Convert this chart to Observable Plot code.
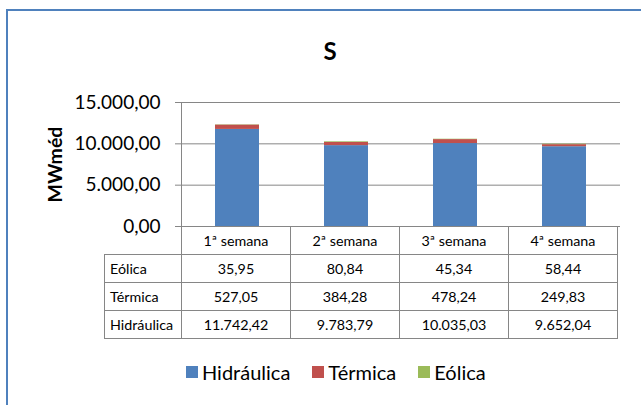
<!DOCTYPE html>
<html>
<head>
<meta charset="utf-8">
<script src="https://cdn.jsdelivr.net/npm/d3@7"></script>
<script src="https://cdn.jsdelivr.net/npm/@observablehq/plot@0.6"></script>
<style>
  html, body { margin: 0; padding: 0; background: #fff; overflow: hidden; }
  #chart { position: relative; width: 641px; height: 405px; overflow: hidden; font-family: Lato, "Open Sans", sans-serif; color: #000; }
  #border { position: absolute; left: 6px; top: 9px; width: 700px; height: 500px; border: 2px solid #4F81BD; box-sizing: border-box; }
  #title { position: absolute; left: 0; top: 36px; width: 660px; text-align: center; font-weight: bold; font-size: 24px; line-height: 30px; }
  #chart svg g[aria-label="y-axis label"] text { font-weight: bold; font-size: 19.5px; }
  #tbl { position: absolute; border-collapse: collapse; table-layout: fixed; font-size: 14.3px; }
  #tbl td { border: 1px solid #868686; padding: 0; text-align: center; box-sizing: border-box; white-space: nowrap; }
  #tbl td.lab { text-align: left; padding-left: 5px; }
  #tbl td.empty { border: none; }
  #legend { position: absolute; top: 360px; left: 186px; display: flex; align-items: center; font-size: 20px; }
  .item { display: flex; align-items: center; margin-right: 22px; }
  .sw { width: 12px; height: 12px; margin-right: 4px; }
</style>
</head>
<body>
<div id="chart">
  <div id="border"></div>
  <div id="title">S</div>
</div>
<script>
const weeks = ["1ª semana", "2ª semana", "3ª semana", "4ª semana"];
const series = ["Hidráulica", "Térmica", "Eólica"];
const colors = ["#4F81BD", "#C0504D", "#9BBB59"];
const hidraulica = [11742.42, 9783.79, 10035.03, 9652.04];
const termica = [527.05, 384.28, 478.24, 249.83];
const eolica = [35.95, 80.84, 45.34, 58.44];
const yTicks = [0, 5000, 10000, 15000];
const yLabel = "MWméd";
const tableRows = ["Eólica", "Térmica", "Hidráulica"];

const valuesBySeries = {"Hidráulica": hidraulica, "Térmica": termica, "Eólica": eolica};
const data = weeks.flatMap((w, i) => series.map(s => ({week: w, serie: s, value: valuesBySeries[s][i]})));

const locale = d3.formatLocale({decimal: ",", thousands: ".", grouping: [3], currency: ["", ""]});
const fmt = locale.format(",.2f");

const W = 641, H = 405;
const plot = Plot.plot({
  width: W, height: H,
  marginLeft: 181, marginRight: 21, marginTop: 102, marginBottom: H - 226,
  style: {position: "absolute", left: "0px", top: "0px", background: "transparent", fontFamily: "Lato, 'Open Sans', sans-serif", color: "#000", overflow: "visible"},
  x: {domain: weeks, paddingInner: 0.6, paddingOuter: 0.3, axis: null},
  y: {domain: [0, 15000]},
  color: {domain: series, range: colors},
  marks: [
    Plot.gridY(yTicks, {stroke: "#868686", strokeOpacity: 1}),
    Plot.barY(data, {x: "week", y: "value", fill: "serie", order: series}),
    Plot.frame({anchor: "left", stroke: "#868686"}),
    Plot.axisY(yTicks, {tickFormat: fmt, tickSize: 6, tickPadding: 15, fontSize: 19, stroke: "#868686",
      label: yLabel, labelAnchor: "center", labelArrow: "none", labelOffset: 133, fill: "#000"})
  ]
});
document.getElementById("chart").appendChild(plot);

// data table aligned to the x band scale
const xs = plot.scale("x");
const step = xs.step;
const left0 = xs.range[0];
const tbl = document.createElement("table");
tbl.id = "tbl";
const labW = left0 - 104;
tbl.style.left = "104px";
tbl.style.top = "226px";
tbl.style.width = (labW + step * weeks.length) + "px";
const cg = document.createElement("colgroup");
[labW, ...weeks.map(() => step)].forEach(w => { const c = document.createElement("col"); c.style.width = w + "px"; cg.appendChild(c); });
tbl.appendChild(cg);
const hr = tbl.insertRow();
hr.style.height = "28px";
const e = hr.insertCell(); e.className = "empty";
weeks.forEach(w => { const c = hr.insertCell(); c.textContent = w; });
tableRows.forEach(s => {
  const r = tbl.insertRow();
  r.style.height = "28px";
  const l = r.insertCell(); l.className = "lab"; l.textContent = s;
  valuesBySeries[s].forEach(v => { const c = r.insertCell(); c.textContent = fmt(v); });
});
document.getElementById("chart").appendChild(tbl);

// legend
const lg = document.createElement("div");
lg.id = "legend";
series.forEach((s, i) => {
  const it = document.createElement("div"); it.className = "item";
  const sw = document.createElement("div"); sw.className = "sw"; sw.style.background = colors[i];
  const t = document.createElement("span"); t.textContent = s;
  it.appendChild(sw); it.appendChild(t); lg.appendChild(it);
});
document.getElementById("chart").appendChild(lg);
</script>
</body>
</html>
